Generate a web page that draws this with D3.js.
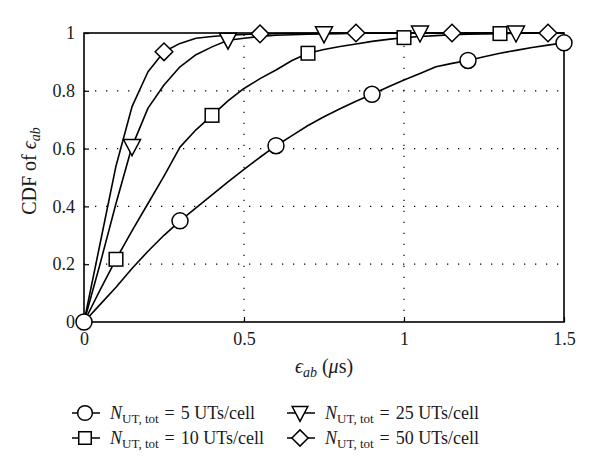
<!DOCTYPE html>
<html>
<head>
<meta charset="utf-8">
<script src="https://cdn.jsdelivr.net/npm/d3@7"></script>
<style>
  html, body { margin: 0; padding: 0; background: #fff; }
  svg { display: block; font-family: "Liberation Serif", "DejaVu Serif", serif; }
</style>
</head>
<body>
<svg id="chart" width="600" height="473"></svg>
<script>
// ---- data ----
var xs = [0, 0.05, 0.1, 0.15, 0.2, 0.25, 0.3, 0.35, 0.4, 0.45, 0.5, 0.55, 0.6, 0.65, 0.7, 0.75,
  0.8, 0.85, 0.9, 0.95, 1.0, 1.05, 1.1, 1.15, 1.2, 1.25, 1.3, 1.35, 1.4, 1.45, 1.5];
var cdf5 = [0, 0.06, 0.12, 0.185, 0.245, 0.30, 0.35, 0.395, 0.44, 0.485, 0.528, 0.57, 0.61, 0.645, 0.68, 0.71,
  0.738, 0.764, 0.788, 0.813, 0.837, 0.86, 0.883, 0.895, 0.905, 0.918, 0.93, 0.94, 0.95, 0.958, 0.966];
var cdf10 = [0, 0.11, 0.217, 0.315, 0.41, 0.505, 0.605, 0.665, 0.715, 0.765, 0.808, 0.842, 0.872, 0.905, 0.93, 0.943,
  0.953, 0.962, 0.971, 0.978, 0.984, 0.988, 0.991, 0.994, 0.996, 0.997, 0.998, 0.999, 0.999, 1, 1];
var cdf25 = [0, 0.2, 0.41, 0.607, 0.74, 0.82, 0.883, 0.925, 0.952, 0.975, 0.982, 0.988, 0.992, 0.994, 0.996, 0.997,
  0.998, 0.999, 0.999, 0.999, 1, 1, 1, 1, 1, 1, 1, 1, 1, 1, 1];
var cdf50 = [0, 0.27, 0.54, 0.745, 0.866, 0.935, 0.964, 0.982, 0.988, 0.992, 0.995, 0.997, 0.998, 0.999, 0.999, 1,
  1, 1, 1, 1, 1, 1, 1, 1, 1, 1, 1, 1, 1, 1, 1];
var marks5 = [0, 0.3, 0.6, 0.9, 1.2, 1.5];
var marks10 = [0.1, 0.4, 0.7, 1.0, 1.3];
var marks25 = [0.15, 0.45, 0.75, 1.05, 1.35];
var marks50 = [0.25, 0.55, 0.85, 1.15, 1.45];
var labels = ["5", "10", "25", "50"];
var xTicks = [0, 0.5, 1, 1.5];
var yTicks = [0, 0.2, 0.4, 0.6, 0.8, 1];
var xGrid = [0.5, 1];
var yGrid = [0.2, 0.4, 0.6, 0.8];

var series = [
  { y: cdf5, marks: marks5, sym: "circle", n: labels[0] },
  { y: cdf10, marks: marks10, sym: "square", n: labels[1] },
  { y: cdf25, marks: marks25, sym: "tri", n: labels[2] },
  { y: cdf50, marks: marks50, sym: "diamond", n: labels[3] }
];

// ---- layout ----
var L = 84, R = 564, T = 33, B = 322;
var svg = d3.select("#chart");
var x = d3.scaleLinear().domain([0, 1.5]).range([L, R]);
var y = d3.scaleLinear().domain([0, 1]).range([B, T]);

// grid
svg.append("g").selectAll("line").data(xGrid).join("line")
  .attr("x1", function (d) { return x(d); }).attr("x2", function (d) { return x(d); })
  .attr("y1", B).attr("y2", T)
  .attr("stroke", "#000").attr("stroke-width", 1.2).attr("stroke-dasharray", "1.3,9.7");
svg.append("g").selectAll("line").data(yGrid).join("line")
  .attr("y1", function (d) { return y(d); }).attr("y2", function (d) { return y(d); })
  .attr("x1", L).attr("x2", R)
  .attr("stroke", "#000").attr("stroke-width", 1.2).attr("stroke-dasharray", "1.3,9.7");

// axes (ticks point inward)
var fmt = function (d) { return d === 0 ? "0" : d3.format("")(d); };
var gx = svg.append("g").attr("transform", "translate(0," + B + ")")
  .call(d3.axisBottom(x).tickValues(xTicks).tickFormat(fmt).tickSize(-5).tickPadding(10));
var gy = svg.append("g").attr("transform", "translate(" + L + ",0)")
  .call(d3.axisLeft(y).tickValues(yTicks).tickFormat(fmt).tickSize(-5).tickPadding(9));
[gx, gy].forEach(function (g) {
  g.attr("font-family", null);
  g.select(".domain").remove();
  g.selectAll("line").attr("stroke", "#000").attr("stroke-width", 1.2);
  g.selectAll("text").attr("font-size", 18).attr("fill", "#1a1a1a");
});

// frame
svg.append("rect").attr("x", L).attr("y", T).attr("width", R - L).attr("height", B - T)
  .attr("fill", "none").attr("stroke", "#000").attr("stroke-width", 1.6);

// markers
function drawSym(g, sym, cx, cy, s) {
  if (sym === "circle") {
    g.append("circle").attr("cx", cx).attr("cy", cy).attr("r", 8 * s);
  } else if (sym === "square") {
    var h = 6.8 * s;
    g.append("rect").attr("x", cx - h).attr("y", cy - h).attr("width", 2 * h).attr("height", 2 * h);
  } else if (sym === "tri") {
    var w = 8.5 * s;
    g.append("path").attr("d", "M" + (cx - w) + "," + (cy - 7 * s) + "L" + (cx + w) + "," + (cy - 7 * s) + "L" + cx + "," + (cy + 9 * s) + "Z");
  } else {
    var d = 8.8 * s;
    g.append("path").attr("d", "M" + cx + "," + (cy - d) + "L" + (cx + d) + "," + cy + "L" + cx + "," + (cy + d) + "L" + (cx - d) + "," + cy + "Z");
  }
}

var line = d3.line().x(function (d) { return x(d[0]); }).y(function (d) { return y(d[1]); });
var plot = svg.append("g");
series.forEach(function (s) {
  var pts = xs.map(function (v, i) { return [v, s.y[i]]; });
  plot.append("path").datum(pts).attr("d", line)
    .attr("fill", "none").attr("stroke", "#000").attr("stroke-width", 1.6).attr("stroke-linejoin", "round");
});
series.forEach(function (s) {
  var g = plot.append("g").attr("fill", "#fff").attr("stroke", "#000").attr("stroke-width", 1.5);
  xs.forEach(function (v, i) {
    if (s.marks.some(function (m) { return Math.abs(m - v) < 1e-9; })) drawSym(g, s.sym, x(v), y(s.y[i]), 1);
  });
});

// axis titles
var yl = svg.append("text").attr("transform", "translate(36,171) rotate(-90)")
  .attr("text-anchor", "middle").attr("font-size", 20).attr("fill", "#1a1a1a");
yl.append("tspan").text("CDF of ");
yl.append("tspan").attr("font-style", "italic").text("ϵ");
yl.append("tspan").attr("font-style", "italic").attr("font-size", 14).attr("dy", 4).text("ab");

var xl = svg.append("text").attr("x", 324).attr("y", 373)
  .attr("text-anchor", "middle").attr("font-size", 20).attr("fill", "#1a1a1a");
xl.append("tspan").attr("font-style", "italic").text("ϵ");
xl.append("tspan").attr("font-style", "italic").attr("font-size", 14).attr("dy", 4).text("ab");
xl.append("tspan").attr("dy", -4).attr("dx", 5).text("(");
xl.append("tspan").attr("font-style", "italic").text("μ");
xl.append("tspan").text("s)");

// legend
var legPos = [[85, 413], [85, 438], [300, 413], [300, 438]];
series.forEach(function (s, i) {
  var p = legPos[i];
  var g = svg.append("g");
  g.append("line").attr("x1", p[0] - 13).attr("x2", p[0] + 15).attr("y1", p[1]).attr("y2", p[1])
    .attr("stroke", "#000").attr("stroke-width", 1.5);
  var gm = g.append("g").attr("fill", "#fff").attr("stroke", "#000").attr("stroke-width", 1.5);
  drawSym(gm, s.sym, p[0], p[1], 0.92);
  var t = g.append("text").attr("x", p[0] + 25).attr("y", p[1] + 6).attr("font-size", 18).attr("fill", "#1a1a1a");
  t.append("tspan").attr("font-style", "italic").text("N");
  t.append("tspan").attr("font-size", 13).attr("dy", 4).text("UT, tot");
  t.append("tspan").attr("dy", -4).attr("dx", 6).text("=");
  t.append("tspan").attr("dx", 6).text(s.n + " UTs/cell");
});
</script>
</body>
</html>
